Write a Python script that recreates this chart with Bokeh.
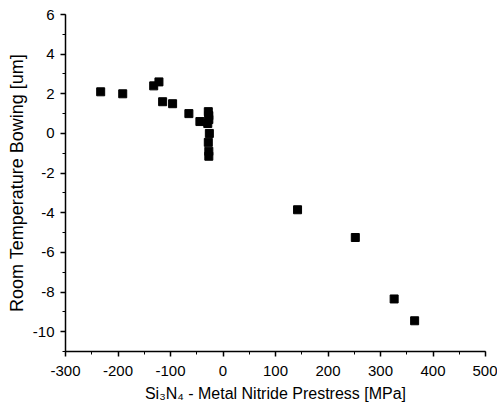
from bokeh.plotting import figure
from bokeh.models import SingleIntervalTicker, Range1d, CustomJSTickFormatter
from bokeh.embed import file_html
from bokeh.resources import INLINE

prestress = [-233, -191, -132, -122, -115, -96, -65, -44,
             -28, -27, -27, -29, -26, -28, -27, -27,
             142, 252, 326, 365]
bowing = [2.1, 2.0, 2.4, 2.6, 1.6, 1.5, 1.0, 0.6,
          1.1, 0.9, 0.7, 0.5, 0.0, -0.45, -0.9, -1.15,
          -3.85, -5.25, -8.35, -9.45]

x_label = "Si\u2083N\u2084 - Metal Nitride Prestress [MPa]"
y_label = "Room Temperature Bowing [um]"

p = figure(width=497, height=404, output_backend="svg", toolbar_location=None,
           x_range=Range1d(-300, 500), y_range=Range1d(-11, 6),
           min_border_left=65, min_border_right=12, min_border_top=14,
           min_border_bottom=52)
p.outline_line_color = None
p.xgrid.visible = False
p.ygrid.visible = False

p.scatter(prestress, bowing, marker="square", size=8, color="black")

p.xaxis.ticker = SingleIntervalTicker(interval=100, num_minor_ticks=2)
p.yaxis.ticker = SingleIntervalTicker(interval=2, num_minor_ticks=2)
for ax in (p.xaxis[0], p.yaxis[0]):
    ax.formatter = CustomJSTickFormatter(code="return tick.toString();")
    ax.axis_line_width = 1.5
    ax.axis_line_color = "black"
    ax.major_tick_line_color = "black"
    ax.minor_tick_line_color = "black"
    ax.major_tick_line_width = 1.5
    ax.major_tick_out = 5
    ax.major_tick_in = 0
    ax.minor_tick_out = 3
    ax.minor_tick_in = 0
    ax.major_label_text_font = "Liberation Sans"
    ax.major_label_text_font_size = "15px"
    ax.major_label_text_color = "black"
    ax.axis_label_text_font = "Liberation Sans"
    ax.axis_label_text_font_style = "normal"
    ax.axis_label_text_color = "black"

p.xaxis.axis_label = x_label
p.yaxis.axis_label = y_label
p.xaxis.axis_label_text_font_size = "16px"
p.yaxis.axis_label_text_font_size = "18px"
p.xaxis.major_label_standoff = 9
p.yaxis.major_label_standoff = 6
p.xaxis.axis_label_standoff = 6
p.yaxis.axis_label_standoff = 3

open("out.html", "w").write(file_html(p, INLINE))
